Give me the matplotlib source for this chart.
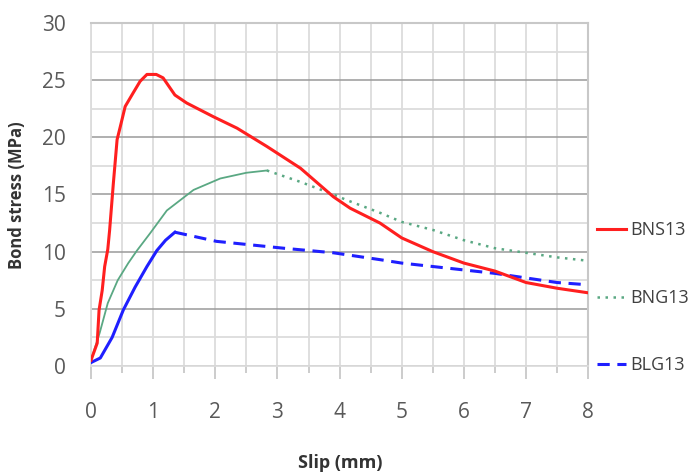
import matplotlib
matplotlib.use("Agg")
import matplotlib.pyplot as plt
from matplotlib.ticker import MultipleLocator
from matplotlib.lines import Line2D

plt.rcParams['font.family'] = ['Open Sans', 'DejaVu Sans']

# BNS13 (solid red)
bns_x = [0, 0.1, 0.13, 0.18, 0.22, 0.27, 0.3, 0.36, 0.42, 0.47, 0.55, 0.68, 0.79, 0.9,
         1.05, 1.16, 1.35, 1.54, 1.97, 2.35, 2.83, 3.37, 3.9, 4.17, 4.65, 5.0, 5.5,
         6.0, 6.5, 7.0, 7.5, 8.0]
bns_y = [0.5, 2.0, 4.9, 6.6, 8.7, 10.2, 11.9, 16.0, 19.8, 20.9, 22.7, 23.9, 24.9, 25.5,
         25.5, 25.2, 23.7, 23.0, 21.8, 20.8, 19.2, 17.3, 14.8, 13.8, 12.5, 11.2, 10.0,
         9.0, 8.3, 7.3, 6.8, 6.4]

# BNG13 rising (solid) and softening (dotted) parts
bng_x_rise = [0, 0.14, 0.27, 0.43, 0.6, 0.74, 0.95, 1.22, 1.65, 2.08, 2.5, 2.83]
bng_y_rise = [0.5, 2.9, 5.5, 7.5, 9.0, 10.1, 11.6, 13.6, 15.4, 16.4, 16.9, 17.1]
bng_x_fall = [2.83, 3.37, 3.9, 4.12, 4.65, 5.0, 5.5, 6.0, 6.5, 7.0, 7.5, 8.0]
bng_y_fall = [17.1, 16.1, 15.0, 14.5, 13.4, 12.6, 11.9, 11.0, 10.3, 9.9, 9.5, 9.2]

# BLG13 rising (solid) and softening (dashed) parts
blg_x_rise = [0, 0.15, 0.34, 0.52, 0.71, 0.9, 1.06, 1.2, 1.35]
blg_y_rise = [0.3, 0.7, 2.5, 4.9, 6.9, 8.7, 10.1, 11.0, 11.7]
blg_x_fall = [1.35, 2.02, 3.1, 3.9, 4.65, 5.0, 5.5, 6.0, 6.5, 7.0, 7.5, 8.0]
blg_y_fall = [11.7, 10.9, 10.3, 9.9, 9.3, 9.0, 8.7, 8.4, 8.1, 7.7, 7.3, 7.1]

labels = ['BNS13', 'BNG13', 'BLG13']

red = '#ff1f1f'
green = '#5aa883'
blue = '#1f1fff'

fig = plt.figure(figsize=(6.92, 4.75), dpi=100)
ax = fig.add_axes([0.1315, 0.2295, 0.7185, 0.7221])

ax.plot(bns_x, bns_y, color=red, lw=2.2, zorder=5)
ax.plot(bng_x_rise, bng_y_rise, color=green, lw=1.3, zorder=4)
ax.plot(bng_x_fall, bng_y_fall, color=green, lw=1.8, ls=(0, (1, 2.2)), zorder=4)
ax.plot(blg_x_rise, blg_y_rise, color=blue, lw=2.2, zorder=4)
ax.plot(blg_x_fall, blg_y_fall, color=blue, lw=2.2, ls=(0, (4, 2.5)), zorder=4)

ax.set_xlim(0, 8)
ax.set_ylim(0, 30)

# gridlines
ax.xaxis.set_major_locator(MultipleLocator(1))
ax.xaxis.set_minor_locator(MultipleLocator(0.5))
ax.yaxis.set_major_locator(MultipleLocator(5))
ax.yaxis.set_minor_locator(MultipleLocator(2.5))
ax.grid(which='minor', color='#dcdcdc', lw=1.3)
ax.grid(which='major', axis='x', color='#dcdcdc', lw=1.3)
ax.grid(which='major', axis='y', color='#9a9a9a', lw=1.1)
ax.set_axisbelow(True)

for s in ['top', 'right']:
    ax.spines[s].set_color('#c8c8c8')
    ax.spines[s].set_linewidth(1.5)
for s in ['left', 'bottom']:
    ax.spines[s].set_color('#dcdcdc')
    ax.spines[s].set_linewidth(1.3)

ax.tick_params(axis='x', which='major', length=9, width=1.3, color='#c8c8c8',
               pad=17, labelsize=15, labelcolor='#595959')
ax.tick_params(axis='x', which='minor', length=5, width=1.3, color='#c8c8c8')
ax.tick_params(axis='y', which='both', length=0, pad=18, labelsize=15,
               labelcolor='#595959')

fig.text(0.025, 0.59, 'Bond stress (MPa)', fontsize=12, fontweight='bold',
         color='#333333', rotation=90, ha='center', va='center')
fig.text(0.491, 0.025, 'Slip (mm)', fontsize=13, fontweight='bold',
         color='#333333', ha='center', va='center')

handles = [Line2D([], [], color=red, lw=2.2),
           Line2D([], [], color=green, lw=1.8, ls=(0, (1, 2.2))),
           Line2D([], [], color=blue, lw=2.2, ls=(0, (4, 2.5)))]
fig.legend(handles, labels, loc='center left',
           bbox_to_anchor=(0.862, 0.373), frameon=False, fontsize=13,
           handlelength=1.65, handletextpad=0.2, labelspacing=2.75,
           labelcolor='#404040', borderaxespad=0, borderpad=0)

fig.savefig('out.png', dpi=100, facecolor='white')
